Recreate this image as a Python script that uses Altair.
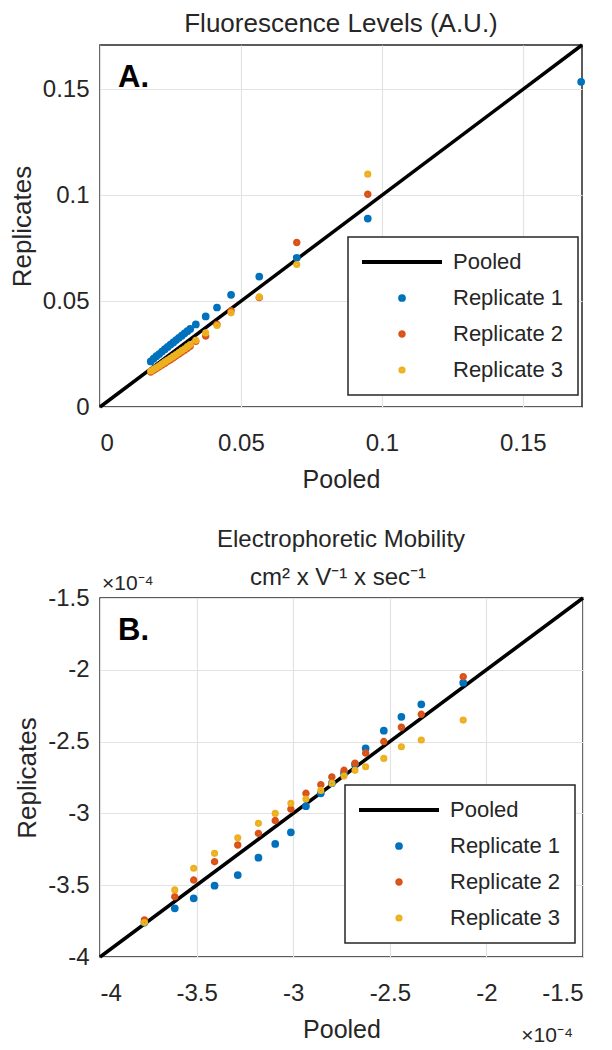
import altair as alt
import pandas as pd
import numpy as np

FONT = "Liberation Sans"
TXT = "#262626"

series_names = ["Pooled", "Replicate 1", "Replicate 2", "Replicate 3"]
series_colors = ["#000000", "#0072BD", "#D95319", "#EDB120"]
series_shapes = ["M-20,0L20,0", "circle", "circle", "circle"]
series_sizes = [16, 10, 10, 10]

# ---- Panel A: Fluorescence Levels (A.U.) ----
a_pooled = [0.018, 0.019, 0.020, 0.021, 0.022, 0.023, 0.024, 0.025, 0.026, 0.027, 0.028,
            0.029, 0.030, 0.031, 0.032, 0.034, 0.0375, 0.0415, 0.0465, 0.0565, 0.0698,
            0.095, 0.1707]
a_rep1 = [0.0215, 0.0228, 0.0240, 0.0250, 0.0262, 0.0273, 0.0284, 0.0295, 0.0305, 0.0316,
          0.0327, 0.0337, 0.0348, 0.0358, 0.0369, 0.0390, 0.0428, 0.0470, 0.0530, 0.0616,
          0.0705, 0.0890, 0.1536]
a_rep2 = [0.0165, 0.0173, 0.0181, 0.0190, 0.0198, 0.0206, 0.0215, 0.0223, 0.0232, 0.0241,
          0.0250, 0.0259, 0.0268, 0.0277, 0.0287, 0.0310, 0.0335, 0.0390, 0.0455, 0.0517,
          0.0777, 0.1005, None]
a_rep3 = [0.0170, 0.0178, 0.0186, 0.0195, 0.0204, 0.0213, 0.0222, 0.0230, 0.0239, 0.0248,
          0.0257, 0.0266, 0.0275, 0.0285, 0.0295, 0.0315, 0.0350, 0.0385, 0.0445, 0.0520,
          0.0673, 0.1100, None]
a_domain = [0, 0.171]
a_ticks = [0, 0.05, 0.1, 0.15]
a_title = ["Fluorescence Levels (A.U.)"]

# ---- Panel B: Electrophoretic Mobility (x 10^-4 cm^2 V^-1 s^-1) ----
b_pooled = [-3.77, -3.613, -3.515, -3.407, -3.287, -3.18, -3.093, -3.012, -2.934, -2.857,
            -2.80, -2.737, -2.68, -2.625, -2.531, -2.44, -2.337, -2.12]
b_rep1 = [-3.76, -3.661, -3.591, -3.503, -3.429, -3.308, -3.213, -3.132, -2.95, -2.86,
          -2.79, -2.72, -2.66, -2.547, -2.424, -2.327, -2.24, -2.09]
b_rep2 = [-3.742, -3.58, -3.464, -3.336, -3.22, -3.139, -3.05, -2.97, -2.86, -2.80,
          -2.746, -2.70, -2.65, -2.58, -2.50, -2.40, -2.31, -2.048]
b_rep3 = [-3.76, -3.533, -3.382, -3.278, -3.17, -3.069, -3.0, -2.93, -2.90, -2.84,
          -2.79, -2.74, -2.70, -2.675, -2.617, -2.536, -2.489, -2.35]
b_domain = [-4, -1.5]
b_ticks = [-4, -3.5, -3, -2.5, -2, -1.5]
b_title = ["Electrophoretic Mobility", "cm² x V⁻¹ x sec⁻¹"]
b_exponent = "×10⁻⁴"


def long_df(pooled, reps):
    rows = []
    for name, vals in zip(series_names[1:], reps):
        for p, v in zip(pooled, vals):
            if v is not None:
                rows.append({"pooled": p, "rep": v, "series": name})
    return pd.DataFrame(rows)


def text_layer(txt, x, y, size=22, align="center", weight="normal", color=TXT):
    return alt.Chart(pd.DataFrame({"t": [txt]})).mark_text(
        font=FONT, fontSize=size, fontWeight=weight, align=align, baseline="alphabetic", color=color
    ).encode(text="t:N", x=alt.value(x), y=alt.value(y))


def panel(pooled, reps, domain, ticks, tag, w, h, lx, ly, annotations):
    pts_df = long_df(pooled, reps)
    diag_df = pd.DataFrame({"pooled": domain, "rep": domain})
    xs = alt.Scale(domain=domain, nice=False, zero=False)
    ys = alt.Scale(domain=domain, nice=False, zero=False)
    xaxis = alt.Axis(values=ticks, labelExpr="datum.value + ''", title="Pooled",
                     labelPadding=24, titlePadding=12, titleFontSize=25)
    yaxis = alt.Axis(values=ticks, labelExpr="datum.value + ''", title="Replicates",
                     labelPadding=11, titlePadding=7, titleFontSize=26)
    leg = alt.Legend(title=None, orient="none", legendX=lx, legendY=ly,
                     direction="vertical", fillColor="white", strokeColor="#262626",
                     padding=14, rowPadding=14, labelOffset=40, symbolOffset=29,
                     labelFontSize=22, labelFont=FONT, labelColor=TXT,
                     symbolStrokeWidth=4, labelLimit=300)
    line = alt.Chart(diag_df).mark_line(color="black", strokeWidth=3.5).encode(
        x=alt.X("pooled:Q", scale=xs, axis=xaxis),
        y=alt.Y("rep:Q", scale=ys, axis=yaxis),
    )
    pts = alt.Chart(pts_df).mark_point(filled=False, strokeWidth=4, opacity=1).encode(
        x=alt.X("pooled:Q", scale=xs, axis=xaxis),
        y=alt.Y("rep:Q", scale=ys, axis=yaxis),
        color=alt.Color("series:N", scale=alt.Scale(domain=series_names, range=series_colors), legend=leg),
        shape=alt.Shape("series:N", scale=alt.Scale(domain=series_names, range=series_shapes), legend=leg),
        size=alt.Size("series:N", scale=alt.Scale(domain=series_names, range=series_sizes), legend=leg),
    )
    layers = [line, pts, text_layer(tag, 18, 42, size=31, align="left", weight="bold", color="black")]
    layers += [text_layer(*a) for a in annotations]
    return alt.layer(*layers).properties(width=w, height=h)


pa = panel(a_pooled, [a_rep1, a_rep2, a_rep3], a_domain, a_ticks, "A.", 482, 362, 248, 192,
           [(a_title[0], 241, -13, 26)])
pb = panel(b_pooled, [b_rep1, b_rep2, b_rep3], b_domain, b_ticks, "B.", 483, 359, 245, 187,
           [(b_title[0], 241, -51, 24), (b_title[1], 238, -13, 24),
            (b_exponent, 2, -8, 21, "left"), (b_exponent, 473, 444, 21, "right")])

chart = alt.vconcat(pa, pb, spacing=191, bounds="flush").resolve_scale(
    color="independent", shape="independent", size="independent"
).resolve_legend(
    color="independent", shape="independent", size="independent"
).configure(
    padding={"top": 2, "left": 0, "right": 0, "bottom": 0}, font=FONT
).configure_view(
    stroke="#262626", strokeWidth=1.5
).configure_axis(
    domain=False, ticks=False, grid=True, gridColor="#e3e3e3", gridWidth=1.2,
    labelFont=FONT, labelFontSize=24, labelColor=TXT, titleFont=FONT, titleColor=TXT,
    titleFontWeight="normal"
).configure_legend(
    strokeWidth=1.5
)

chart.save("out.html", embed_options={"renderer": "svg", "actions": False})
